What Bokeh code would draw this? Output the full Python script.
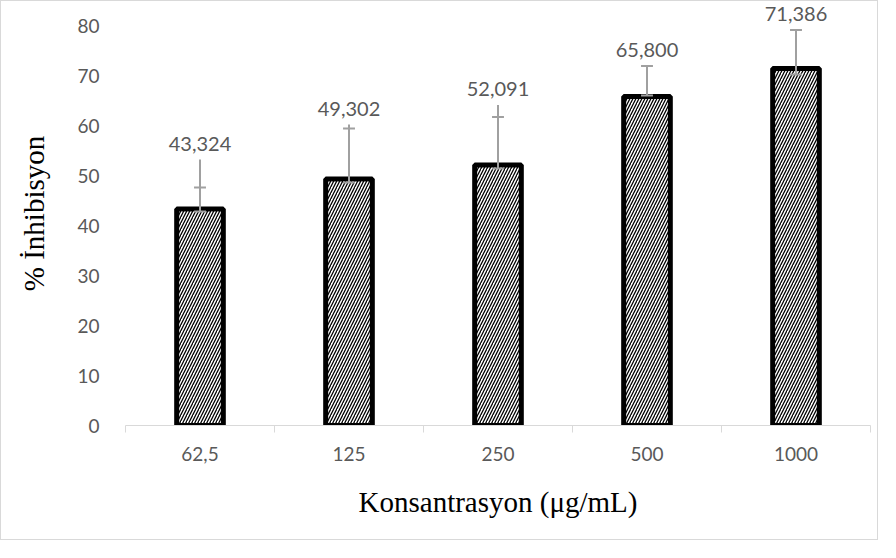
from bokeh.plotting import figure
from bokeh.models import Range1d, FixedTicker, ColumnDataSource
from bokeh.core.properties import value
from bokeh.embed import file_html
from bokeh.resources import INLINE

# ---- data ----
categories = ["62,5", "125", "250", "500", "1000"]
inhibition = [43.324, 49.302, 52.091, 65.800, 71.386]
err_top = [53.2, 60.2, 64.1, 71.9, 79.1]     # upper end of error line
err_cap = [47.6, 59.4, 61.7, 71.9, 79.1]     # position of the error cap
err_low = [42.8, 48.6, 51.4, 66.0, 70.2]     # lower end of error line
y_ticks = [0, 10, 20, 30, 40, 50, 60, 70, 80]

xs = list(range(1, len(categories) + 1))
labels = [f"{v:.3f}".replace(".", ",") for v in inhibition]
cap_half = 0.04

src = ColumnDataSource(dict(
    x=xs, top=inhibition, et=err_top, ec=err_cap, el=err_low, lab=labels,
    x0=[x - cap_half for x in xs], x1=[x + cap_half for x in xs],
))

p = figure(width=878, height=540, output_backend="svg", toolbar_location=None,
           x_range=Range1d(0.5, len(categories) + 0.5), y_range=Range1d(0, 84.8),
           min_border_left=124, min_border_right=9, min_border_top=0, min_border_bottom=116)
p.styles = {"border": "1px solid #d9d9d9"}
p.outline_line_color = None
p.grid.visible = False
p.background_fill_color = "white"
p.border_fill_color = "white"

p.vbar(x="x", top="top", bottom=0, width=0.313, source=src,
       fill_color="white", line_color="black", line_width=5,
       hatch_pattern="/", hatch_color="black", hatch_scale=6, hatch_weight=1.3)

p.segment(x0="x", y0="el", x1="x", y1="et", source=src, line_color="#a0a0a0", line_width=2)
p.segment(x0="x0", y0="ec", x1="x1", y1="ec", source=src, line_color="#a0a0a0", line_width=2)
p.segment(x0="x0", y0="el", x1="x1", y1="el", source=src, line_color="#a0a0a0", line_width=2)

p.text(x="x", y="et", text="lab", source=src, text_align="center", text_baseline="bottom",
       y_offset=-9, text_font=value("Lato"), text_font_size="20px", text_color="#595959")

# x axis
xa = p.xaxis[0]
xa.ticker = FixedTicker(ticks=xs, minor_ticks=[x - 0.5 for x in xs] + [xs[-1] + 0.5])
xa.major_label_overrides = {x: c for x, c in zip(xs, categories)}
xa.major_tick_out = 0
xa.major_tick_in = 0
xa.minor_tick_out = 7
xa.minor_tick_in = 0
xa.minor_tick_line_color = "#d9d9d9"
xa.axis_line_color = "#d9d9d9"
xa.major_label_text_font = "Lato"
xa.major_label_text_font_size = "19px"
xa.major_label_text_color = "#595959"
xa.major_label_standoff = 14
xa.axis_label = "Konsantrasyon (\u03bcg/mL)"
xa.axis_label_text_font = "Liberation Serif"
xa.axis_label_text_font_style = "normal"
xa.axis_label_text_font_size = "29px"
xa.axis_label_text_color = "black"
xa.axis_label_standoff = 22

# y axis
ya = p.yaxis[0]
ya.ticker = FixedTicker(ticks=y_ticks)
ya.axis_line_color = None
ya.major_tick_line_color = None
ya.minor_tick_line_color = None
ya.major_label_text_font = "Lato"
ya.major_label_text_font_size = "19px"
ya.major_label_text_color = "#595959"
ya.major_label_standoff = 20
ya.axis_label = "% \u0130nhibisyon"
ya.axis_label_text_font = "Liberation Serif"
ya.axis_label_text_font_style = "normal"
ya.axis_label_text_font_size = "29px"
ya.axis_label_text_color = "black"
ya.axis_label_standoff = 24

open("out.html", "w").write(file_html(p, INLINE))
